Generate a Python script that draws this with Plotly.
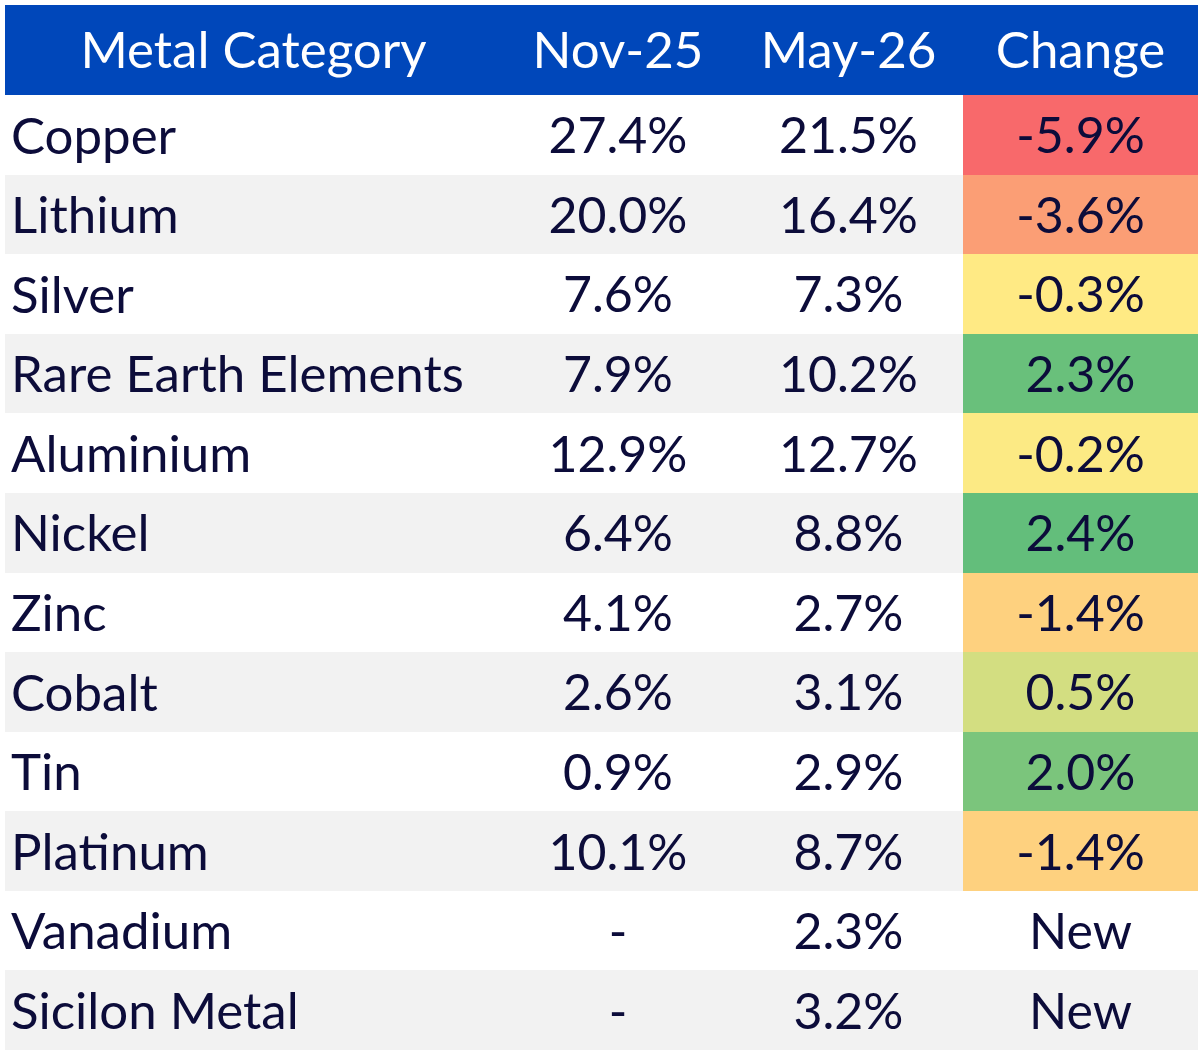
import plotly.graph_objects as go

metals = ["Copper", "Lithium", "Silver", "Rare Earth Elements", "Aluminium", "Nickel",
          "Zinc", "Cobalt", "Tin", "Platinum", "Vanadium", "Sicilon Metal"]
nov25 = [27.4, 20.0, 7.6, 7.9, 12.9, 6.4, 4.1, 2.6, 0.9, 10.1, None, None]
may26 = [21.5, 16.4, 7.3, 10.2, 12.7, 8.8, 2.7, 3.1, 2.9, 8.7, 2.3, 3.2]
change = [-5.9, -3.6, -0.3, 2.3, -0.2, 2.4, -1.4, 0.5, 2.0, -1.4, None, None]
headers = ["Metal Category", "Nov-25", "May-26", "Change"]

# layout constants (pixels)
COLW = [497, 232, 229, 235]
HEAD_H, ROW_H = 90, 79.6
FONT, TXT, BLUE = "Lato", "#0c0c3a", "#0047ba"
FS_NAME, FS_NUM, FS_HEAD = 51, 50, 51
BODY_DROP, HEAD_DROP = 6, 5   # text sits slightly below the row centre

RED, YEL, GRN = (248, 105, 107), (255, 235, 132), (99, 190, 123)


def mix(a, b, t):
    return "rgb(%d,%d,%d)" % tuple(round(a[i] + (b[i] - a[i]) * t) for i in range(3))


vals = sorted(v for v in change if v is not None)
n = len(vals)
med = (vals[n // 2 - 1] + vals[n // 2]) / 2 if n % 2 == 0 else vals[n // 2]
lo, hi = vals[0], vals[-1]


def scale(v):
    if v <= med:
        return mix(RED, YEL, (v - lo) / (med - lo))
    return mix(YEL, GRN, (v - med) / (hi - med))


N = len(metals)
row_bg = ["#ffffff" if i % 2 == 0 else "#f2f2f2" for i in range(N)]
chg_bg = [scale(v) if v is not None else row_bg[i] for i, v in enumerate(change)]
fmt = lambda v: "-" if v is None else f"{v:.1f}%"
col_text = [metals, [fmt(v) for v in nov25], [fmt(v) for v in may26],
            ["New" if v is None else f"{v:.1f}%" for v in change]]

left = [sum(COLW[:j]) for j in range(4)]
total_w = sum(COLW)
body_h = ROW_H * N
H = 1054
plot_h = HEAD_H + body_h
mt, mb = 5, H - 5 - plot_h

fig = go.Figure()
# body backgrounds
fig.add_bar(orientation="h", y=metals, x=[left[3]] * N, base=[0] * N,
            marker=dict(color=row_bg, line=dict(width=0)), hoverinfo="skip",
            xaxis="x", yaxis="y")
fig.add_bar(orientation="h", y=metals, x=[COLW[3]] * N, base=[left[3]] * N,
            marker=dict(color=chg_bg, line=dict(width=0)), hoverinfo="skip",
            xaxis="x", yaxis="y")
# header background
fig.add_bar(orientation="h", y=["hdr"], x=[total_w], base=[0],
            marker=dict(color=BLUE, line=dict(width=0)), hoverinfo="skip",
            xaxis="x2", yaxis="y2")
# texts (on overlay axes shifted by a few pixels)
for j in range(4):
    hx = left[j] + COLW[j] / 2
    if j == 0:
        xs, pos, fs = [left[0] + 6] * N, "middle right", FS_NAME
    else:
        xs, pos, fs = [hx] * N, "middle center", FS_NUM
    fig.add_scatter(x=xs, y=metals, mode="text", text=col_text[j], textposition=pos,
                    textfont=dict(family=FONT, size=fs, color=TXT), hoverinfo="skip",
                    xaxis="x", yaxis="y3")
    fig.add_scatter(x=[hx], y=["hdr"], mode="text", text=[headers[j]],
                    textposition="middle center",
                    textfont=dict(family=FONT, size=FS_HEAD, color="white"),
                    hoverinfo="skip", xaxis="x2", yaxis="y4")

ax = dict(showgrid=False, zeroline=False, showticklabels=False, ticks="",
          showline=False, fixedrange=True)
bd = BODY_DROP / ROW_H
hd = HEAD_DROP / HEAD_H
split = body_h / plot_h
fig.update_layout(
    width=1200, height=H, margin=dict(l=5, r=2, t=mt, b=mb),
    paper_bgcolor="white", plot_bgcolor="white",
    barmode="overlay", bargap=0, showlegend=False,
    xaxis=dict(range=[0, total_w], domain=[0, 1], **ax),
    xaxis2=dict(range=[0, total_w], domain=[0, 1], anchor="y2", **ax),
    yaxis=dict(domain=[0, split], range=[N - 0.5, -0.5], type="category",
               categoryorder="array", categoryarray=metals, **ax),
    yaxis3=dict(domain=[0, split], range=[N - 0.5 - bd, -0.5 - bd], type="category",
                categoryorder="array", categoryarray=metals, overlaying="y",
                anchor="x", **ax),
    yaxis2=dict(domain=[split, 1], range=[-0.5, 0.5], anchor="x2",
                type="category", **ax),
    yaxis4=dict(domain=[split, 1], range=[-0.5 + hd, 0.5 + hd], anchor="x2",
                type="category", overlaying="y2", **ax),
)
fig.write_html("out.html", config={"displayModeBar": False},
               post_script="document.body.style.margin='0';")
